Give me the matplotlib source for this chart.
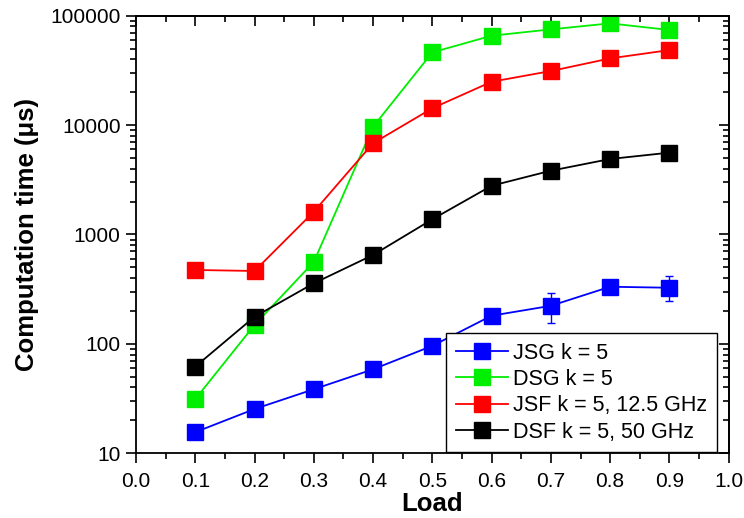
import matplotlib.pyplot as plt
import numpy as np

plt.rcParams["font.family"] = ["Liberation Sans", "DejaVu Sans"]

load = [0.1, 0.2, 0.3, 0.4, 0.5, 0.6, 0.7, 0.8, 0.9]

jsg = [15.6, 25.4, 38.5, 58.6, 96, 181, 223, 333, 326]
jsg_err_lo = [0, 0, 0, 0, 0, 0, 67, 0, 81]
jsg_err_hi = [0, 0, 0, 0, 0, 0, 71, 0, 92]
dsg = [31.3, 149, 561, 9660, 46200, 65600, 75000, 85100, 74000]
jsf = [474, 464, 1614, 6830, 14260, 24900, 31200, 40700, 48500]
dsf = [62, 177, 358, 650, 1377, 2790, 3830, 4900, 5600]

labels = ["JSG k = 5", "DSG k = 5", "JSF k = 5, 12.5 GHz", "DSF k = 5, 50 GHz"]
colors = ["#0000ff", "#00ee00", "#ff0000", "#000000"]

fig = plt.figure(figsize=(7.44, 5.18), dpi=100)
ax = fig.add_axes([0.1828, 0.1249, 0.7966, 0.8448])

series = [jsg, dsg, jsf, dsf]
for vals, lab, col in zip(series, labels, colors):
    ax.plot(load, vals, color=col, marker="s", markersize=11.5,
            linewidth=1.3, label=lab)

# error bars on the JSG series
ax.errorbar(load, jsg, yerr=[jsg_err_lo, jsg_err_hi], fmt="none",
            ecolor=colors[0], capsize=3, elinewidth=1)

ax.set_yscale("log")
ax.set_xlim(0.0, 1.0)
ax.set_ylim(10, 100000)
ax.set_xticks(np.arange(0, 1.01, 0.1))
ax.set_xticks(np.arange(0.05, 1.0, 0.1), minor=True)
ax.set_xticklabels([f"{v:.1f}" for v in np.arange(0, 1.01, 0.1)])
ax.set_yticks([10, 100, 1000, 10000, 100000])
ax.set_yticklabels(["10", "100", "1000", "10000", "100000"])

ax.tick_params(which="both", direction="out", top=False, right=False,
               labelsize=15, width=1.2)
ax.tick_params(which="major", length=7.5)
ax.tick_params(which="minor", length=4)
ax.tick_params(axis="x", pad=6)

# inward mirrored ticks on the top and right sides
ax_top = ax.secondary_xaxis("top")
ax_top.set_xticks(np.arange(0, 1.01, 0.1))
ax_top.set_xticks(np.arange(0.05, 1.0, 0.1), minor=True)
ax_top.tick_params(which="both", direction="in", labeltop=False, width=1.2)
ax_top.tick_params(which="major", length=7.5)
ax_top.tick_params(which="minor", length=4)
ax_right = ax.secondary_yaxis("right")
ax_right.set_yscale("log")
ax_right.tick_params(which="both", direction="in", labelright=False, width=1.2)
ax_right.tick_params(which="major", length=7.5)
ax_right.tick_params(which="minor", length=4)

for sp in ax.spines.values():
    sp.set_linewidth(1.3)
ax_top.spines["top"].set_linewidth(1.3)
ax_right.spines["right"].set_linewidth(1.3)

ax.set_xlabel("Load", fontsize=18.5, fontweight="bold", labelpad=1)
ax.set_ylabel("Computation time (μs)", fontsize=18.5, fontweight="bold",
              labelpad=8)

leg = ax.legend(loc="lower right", fontsize=15.5,
                bbox_to_anchor=(0.980, 0.002), borderaxespad=0,
                fancybox=False, framealpha=1, edgecolor="black",
                handlelength=2.4, borderpad=0.45, labelspacing=0.25,
                handletextpad=0.25)
leg.get_frame().set_linewidth(1.0)

fig.savefig("out.png", dpi=100)
